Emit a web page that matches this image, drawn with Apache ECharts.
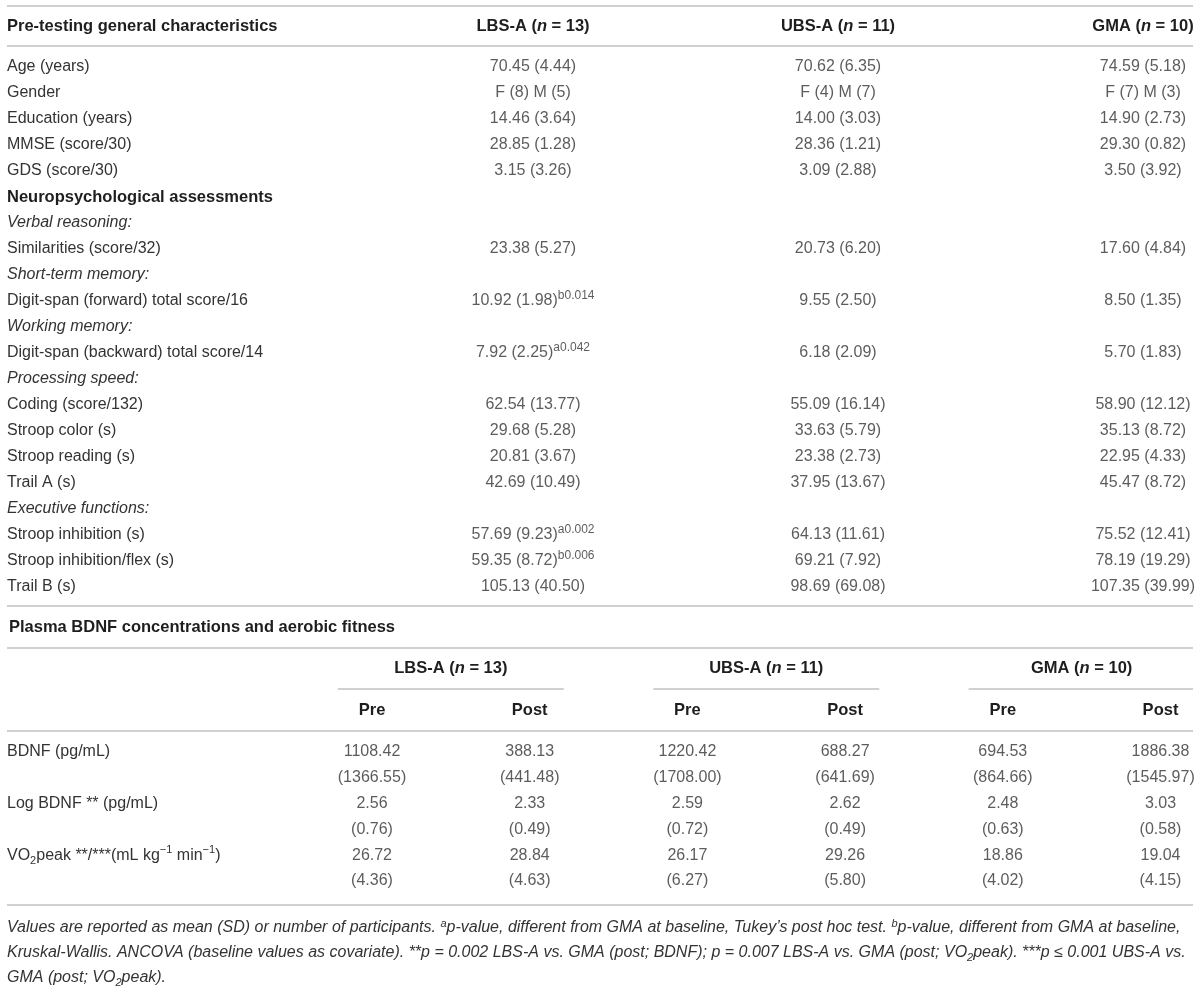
<!DOCTYPE html>
<html><head><meta charset="utf-8">
<script src="https://cdn.jsdelivr.net/npm/echarts/dist/echarts.min.js"></script>
<style>html,body{margin:0;padding:0;background:#fff}#c{width:1200px;height:996px}</style>
</head><body><div id="c"></div>
<script>
// ---------------- DATA ----------------
const topRowLabels = ['Age (years)','Gender','Education (years)','MMSE (score/30)','GDS (score/30)',
  'Neuropsychological assessments','Verbal reasoning:','Similarities (score/32)','Short-term memory:',
  'Digit-span (forward) total score/16','Working memory:','Digit-span (backward) total score/14',
  'Processing speed:','Coding (score/132)','Stroop color (s)','Stroop reading (s)','Trail A (s)',
  'Executive functions:','Stroop inhibition (s)','Stroop inhibition/flex (s)','Trail B (s)'];
const sectionRows = ['Neuropsychological assessments'];
const subheadRows = ['Verbal reasoning:','Short-term memory:','Working memory:','Processing speed:','Executive functions:'];
const groupNames = ['LBS-A','UBS-A','GMA'];
const groupN = [13, 11, 10];
const lbsValues = ['70.45 (4.44)','F (8) M (5)','14.46 (3.64)','28.85 (1.28)','3.15 (3.26)','','','23.38 (5.27)','','10.92 (1.98)','','7.92 (2.25)','','62.54 (13.77)','29.68 (5.28)','20.81 (3.67)','42.69 (10.49)','','57.69 (9.23)','59.35 (8.72)','105.13 (40.50)'];
const ubsValues = ['70.62 (6.35)','F (4) M (7)','14.00 (3.03)','28.36 (1.21)','3.09 (2.88)','','','20.73 (6.20)','','9.55 (2.50)','','6.18 (2.09)','','55.09 (16.14)','33.63 (5.79)','23.38 (2.73)','37.95 (13.67)','','64.13 (11.61)','69.21 (7.92)','98.69 (69.08)'];
const gmaValues = ['74.59 (5.18)','F (7) M (3)','14.90 (2.73)','29.30 (0.82)','3.50 (3.92)','','','17.60 (4.84)','','8.50 (1.35)','','5.70 (1.83)','','58.90 (12.12)','35.13 (8.72)','22.95 (4.33)','45.47 (8.72)','','75.52 (12.41)','78.19 (19.29)','107.35 (39.99)'];
const lbsNotes = ['','','','','','','','','','b0.014','','a0.042','','','','','','','a0.002','b0.006',''];
const ubsNotes = ['','','','','','','','','','','','','','','','','','','','',''];
const gmaNotes = ['','','','','','','','','','','','','','','','','','','','',''];

const phaseNames = ['Pre','Post'];
const measureLabels = ['BDNF (pg/mL)','Log BDNF ** (pg/mL)','VO2peak **/***(mL kg−1 min−1)'];
// order: LBS-A Pre, LBS-A Post, UBS-A Pre, UBS-A Post, GMA Pre, GMA Post
const bdnfMean    = [1108.42, 388.13, 1220.42, 688.27, 694.53, 1886.38];
const bdnfSD      = [1366.55, 441.48, 1708.00, 641.69, 864.66, 1545.97];
const logBdnfMean = [2.56, 2.33, 2.59, 2.62, 2.48, 3.03];
const logBdnfSD   = [0.76, 0.49, 0.72, 0.49, 0.63, 0.58];
const vo2Mean     = [26.72, 28.84, 26.17, 29.26, 18.86, 19.04];
const vo2SD       = [4.36, 4.63, 6.27, 5.80, 4.02, 4.15];

const topTitle = 'Pre-testing general characteristics';
const bottomTitle = 'Plasma BDNF concentrations and aerobic fitness';
const footnoteLines = [
  '{i|Values are reported as mean (SD) or number of participants. }{is|a}{i|p-value, different from GMA at baseline, Tukey\u2019s post hoc test. }{is|b}{i|p-value, different from GMA at baseline,}',
  '{i|Kruskal-Wallis. ANCOVA (baseline values as covariate). **p = 0.002 LBS-A vs. GMA (post; BDNF); p = 0.007 LBS-A vs. GMA (post; VO}{isub|2}{i|peak). ***p \u2264 0.001 UBS-A vs.}',
  '{i|GMA (post; VO}{isub|2}{i|peak).}'
];

// ---------------- LAYOUT / STYLE ----------------
const FONT = "'Liberation Sans', Arial, Helvetica, sans-serif";
const TXT = '#333333';
const HEAD = '#1e1e1e';
const RULE = '#d0d0d0';
const FS = 16;
const FSB = 16.5;
const FSF = 16;
const LY = {
  labelX: 7, right: 1193,
  topHeaderY: 26, topRowsTop: 54, rowH: 26, topColFirst: 533, topColW: 305,
  rules: [6, 46, 606, 648, 731, 905],
  plasmaY: 627, botRowsTop: 739.1, botRowH: 25.8, botColFirst: 372, botColW: 157.7,
  prePostY: 710, groupHeadY: 668, groupRuleY: 689, groupRuleW: 226,
  footY: [928, 953, 978]
};

const baseRich = {
  n: {fontFamily: FONT, fontSize: FS, color: TXT, lineHeight: 22},
  b: {fontFamily: FONT, fontSize: FSB, color: HEAD, fontWeight: 'bold', lineHeight: 22},
  bi: {fontFamily: FONT, fontSize: FSB, color: HEAD, fontWeight: 'bold', fontStyle: 'italic', lineHeight: 22},
  i: {fontFamily: FONT, fontSize: FS, color: TXT, fontStyle: 'italic', lineHeight: 22},
  v: {fontFamily: FONT, fontSize: FS, color: TXT, lineHeight: 22},
  s: {fontFamily: FONT, fontSize: 12, color: TXT, lineHeight: 12, verticalAlign: 'top'},
  sup: {fontFamily: FONT, fontSize: 11, color: TXT, lineHeight: 12, verticalAlign: 'top'},
  sub: {fontFamily: FONT, fontSize: 11, color: TXT, lineHeight: 10, verticalAlign: 'bottom'}
};

function groupHeader(g) { return '{b|' + groupNames[g] + ' (}{bi|n}{b| = ' + groupN[g] + ')}'; }
function fmtMeasure(t) {
  return t.split(/(VO2|−1)/).filter(s => s !== '').map(s => {
    if (s === 'VO2') return '{n|VO}{sub|2}';
    if (s === '−1') return '{sup|\u22121}';
    return '{n|' + s + '}';
  }).join('');
}

const topGridLeft = LY.topColFirst - LY.topColW / 2;
const botGridLeft = LY.botColFirst - LY.botColW / 2;

// ---------------- SERIES DATA ----------------
const topVals = [lbsValues, ubsValues, gmaValues];
const topNotes = [lbsNotes, ubsNotes, gmaNotes];
const topData = [];
topVals.forEach((col, c) => col.forEach((v, r) => {
  if (v) topData.push({value: [c, r], text: v, note: topNotes[c][r]});
}));

const measMeans = [bdnfMean, logBdnfMean, vo2Mean];
const measSDs = [bdnfSD, logBdnfSD, vo2SD];
const botRowKeys = [];
measureLabels.forEach(l => { botRowKeys.push(l); botRowKeys.push(l + ' SD'); });
const botColKeys = [];
groupNames.forEach(g => phaseNames.forEach(p => botColKeys.push(g + ' ' + p)));
const botData = [];
measMeans.forEach((arr, m) => arr.forEach((v, k) => {
  botData.push({value: [k, 2 * m], text: v.toFixed(2)});
  botData.push({value: [k, 2 * m + 1], text: '(' + measSDs[m][k].toFixed(2) + ')'});
}));

const chart = echarts.init(document.getElementById('c'), null, {renderer: 'canvas'});
const option = {
  animation: false,
  backgroundColor: '#ffffff',
  grid: [
    {left: topGridLeft, top: LY.topRowsTop, width: 3 * LY.topColW, height: topRowLabels.length * LY.rowH,
     containLabel: false, outerBoundsMode: 'none'},
    {left: botGridLeft, top: LY.botRowsTop, width: 6 * LY.botColW, height: botRowKeys.length * LY.botRowH,
     containLabel: false, outerBoundsMode: 'none'}
  ],
  xAxis: [
    {gridIndex: 0, type: 'category', data: groupNames, position: 'top',
     axisLine: {show: false}, axisTick: {show: false}, splitLine: {show: false},
     axisLabel: {interval: 0, hideOverlap: false, margin: LY.topRowsTop - LY.topHeaderY, verticalAlign: 'middle',
       formatter: (v, i) => groupHeader(i), rich: baseRich}},
    {gridIndex: 1, type: 'category', data: botColKeys, position: 'top',
     axisLine: {show: false}, axisTick: {show: false}, splitLine: {show: false},
     axisLabel: {interval: 0, hideOverlap: false, margin: LY.botRowsTop - LY.prePostY, verticalAlign: 'middle',
       formatter: (v, i) => '{b|' + phaseNames[i % 2] + '}', rich: baseRich}},
    {gridIndex: 1, type: 'category', data: groupNames, position: 'top',
     axisLine: {show: false}, axisTick: {show: false}, splitLine: {show: false},
     axisLabel: {interval: 0, hideOverlap: false, margin: LY.botRowsTop - LY.groupHeadY, verticalAlign: 'middle',
       formatter: (v, i) => groupHeader(i), rich: baseRich}}
  ],
  yAxis: [
    {gridIndex: 0, type: 'category', data: topRowLabels, inverse: true,
     axisLine: {show: false}, axisTick: {show: false}, splitLine: {show: false},
     axisLabel: {interval: 0, hideOverlap: false, align: 'left', verticalAlign: 'middle',
       margin: topGridLeft - LY.labelX,
       formatter: v => sectionRows.includes(v) ? '{b|' + v + '}' : subheadRows.includes(v) ? '{i|' + v + '}' : '{n|' + v + '}',
       rich: baseRich}},
    {gridIndex: 1, type: 'category', data: botRowKeys, inverse: true,
     axisLine: {show: false}, axisTick: {show: false}, splitLine: {show: false},
     axisLabel: {interval: 0, hideOverlap: false, align: 'left', verticalAlign: 'middle',
       margin: botGridLeft - LY.labelX,
       formatter: (v, i) => i % 2 === 0 ? fmtMeasure(v) : '',
       rich: baseRich}}
  ],
  series: [
    {type: 'scatter', xAxisIndex: 0, yAxisIndex: 0, symbolSize: 0, silent: true, clip: false,
     data: topData,
     label: {show: true, position: 'inside', formatter: p => '{v|' + p.data.text + '}' + (p.data.note ? '{s|' + p.data.note + '}' : ''), rich: baseRich}},
    {type: 'scatter', xAxisIndex: 1, yAxisIndex: 1, symbolSize: 0, silent: true, clip: false,
     data: botData,
     label: {show: true, position: 'inside', formatter: p => '{v|' + p.data.text + '}', rich: baseRich}}
  ]
};
chart.setOption(option);

// rules and free texts (layout), sub-rules positioned from the group axis
const graphics = [];
LY.rules.forEach(y => graphics.push({type: 'line', silent: true,
  shape: {x1: LY.labelX, y1: y, x2: LY.right, y2: y}, style: {stroke: RULE, lineWidth: 2}}));
groupNames.forEach((g, i) => {
  const cx = chart.convertToPixel({xAxisIndex: 2}, i);
  graphics.push({type: 'line', silent: true,
    shape: {x1: cx - LY.groupRuleW / 2, y1: LY.groupRuleY, x2: Math.min(LY.right, cx + LY.groupRuleW / 2), y2: LY.groupRuleY},
    style: {stroke: RULE, lineWidth: 2}});
});
graphics.push({type: 'text', silent: true, x: LY.labelX, y: LY.topHeaderY,
  style: {text: topTitle, font: 'bold ' + FSB + 'px ' + FONT, fill: HEAD, textVerticalAlign: 'middle', verticalAlign: 'middle'}});
graphics.push({type: 'text', silent: true, x: LY.labelX + 2, y: LY.plasmaY,
  style: {text: bottomTitle, font: 'bold ' + FSB + 'px ' + FONT, fill: HEAD, textVerticalAlign: 'middle', verticalAlign: 'middle'}});
const footRich = {
  i: {fontFamily: FONT, fontSize: FSF, fontStyle: 'italic', fill: TXT, color: TXT, lineHeight: 20},
  is: {fontFamily: FONT, fontSize: 11, fontStyle: 'italic', fill: TXT, color: TXT, lineHeight: 11, verticalAlign: 'top'},
  isub: {fontFamily: FONT, fontSize: 11, fontStyle: 'italic', fill: TXT, color: TXT, lineHeight: 9, verticalAlign: 'bottom'}
};
footnoteLines.forEach((t, k) => graphics.push({type: 'text', silent: true, x: LY.labelX, y: LY.footY[k],
  style: {text: t, rich: footRich, fill: TXT, font: 'italic ' + FSF + 'px ' + FONT, verticalAlign: 'middle', textVerticalAlign: 'middle'}}));
chart.setOption({graphic: graphics});
</script>
</body></html>
